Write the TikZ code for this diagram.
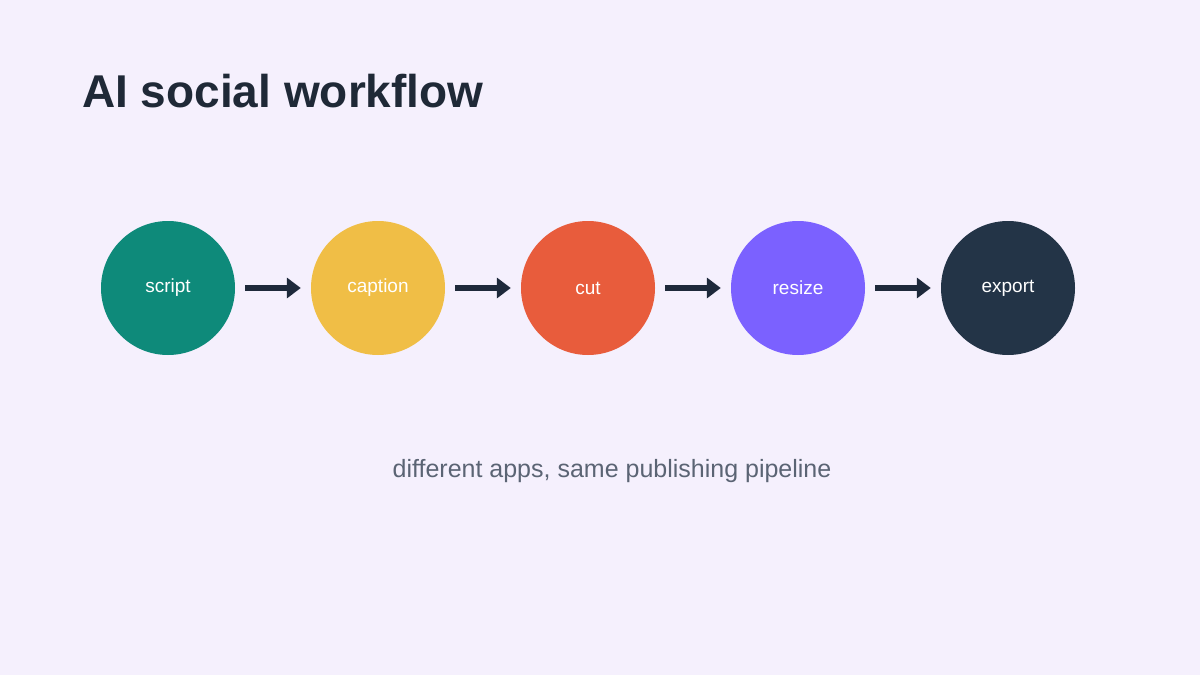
\documentclass[tikz,border=0pt]{standalone}
\usepackage{fontspec}
\setmainfont{Liberation Sans}
\usetikzlibrary{arrows.meta}
\definecolor{bg}{HTML}{F5F0FD}
\definecolor{ink}{HTML}{1F2937}
\definecolor{arr}{HTML}{1E293B}
\definecolor{sub}{HTML}{5B6474}
\begin{document}
\begin{tikzpicture}[x=1pt,y=-1pt,
  stage/.style={circle,minimum size=134pt,inner sep=0pt,text=white,font=\fontsize{19}{22}\selectfont},
  link/.style={draw=arr,line width=6pt,-{Triangle[length=14pt,width=20pt]},shorten <=10pt,shorten >=10pt}]
\fill[bg] (0,0) rectangle (1200,675);
\useasboundingbox (0,0) rectangle (1200,675);
\node[anchor=base west,text=ink,font=\fontsize{46}{50}\selectfont\bfseries,inner sep=0pt] (title) at (82,107) {AI social workflow};
\node[stage,fill={rgb,255:red,14;green,138;blue,122}] (a) at (168,288) {script};
\node[stage,fill={rgb,255:red,240;green,190;blue,70}] (b) at (378,288) {caption};
\node[stage,fill={rgb,255:red,232;green,92;blue,60}] (c) at (588,288) {cut};
\node[stage,fill={rgb,255:red,123;green,97;blue,255}] (d) at (798,288) {resize};
\node[stage,fill={rgb,255:red,35;green,52;blue,71}] (e) at (1008,288) {export};
\draw[link] (a) -- (b);
\draw[link] (b) -- (c);
\draw[link] (c) -- (d);
\draw[link] (d) -- (e);
\node[text=sub,font=\fontsize{25}{30}\selectfont] (s) at (612,471) {different apps, same publishing pipeline};
\end{tikzpicture}
\end{document}
